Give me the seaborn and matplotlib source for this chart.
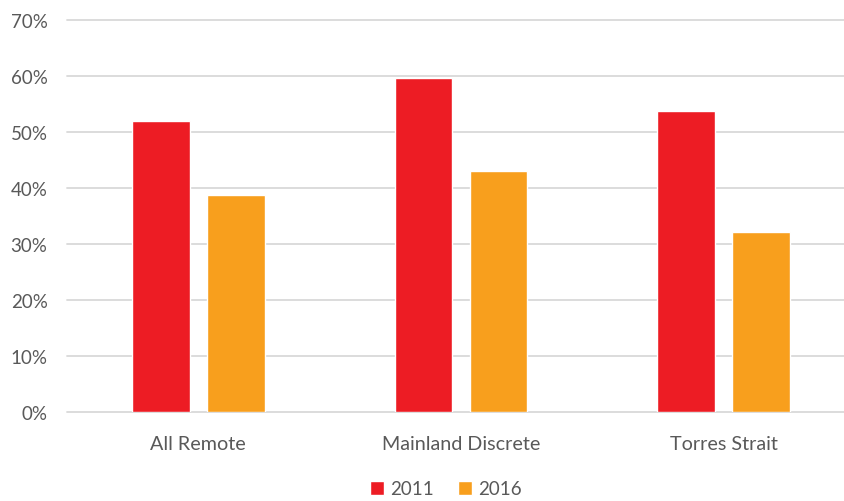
import matplotlib as mpl
mpl.use('Agg')

import matplotlib.pyplot as plt
from matplotlib.ticker import PercentFormatter
from matplotlib.patches import Patch
import pandas as pd
import seaborn as sns

# data
categories = ['All Remote', 'Mainland Discrete', 'Torres Strait']
years = ['2011', '2016']
values_2011 = [0.519, 0.596, 0.537]
values_2016 = [0.388, 0.430, 0.321]
y_ticks = [0.0, 0.1, 0.2, 0.3, 0.4, 0.5, 0.6, 0.7]

RED = '#ED1C24'
ORANGE = '#F89F1D'
GREY_TEXT = '#595959'
GRID = '#D9D9D9'


def main():
    sns.set_style('white')
    plt.rcParams['font.family'] = ['Lato', 'DejaVu Sans']

    df = pd.DataFrame({
        'category': categories * 2,
        'year': [years[0]] * 3 + [years[1]] * 3,
        'value': values_2011 + values_2016,
    })

    fig = plt.figure(figsize=(8.45, 5.02), dpi=100)
    # plot area runs past the right edge of the picture, as in the reference
    ax = fig.add_axes([67 / 845, (502 - 413.3) / 502, (855 - 67) / 845, (413.3 - 21) / 502])

    sns.barplot(data=df, x='category', y='value', hue='year', order=categories,
                hue_order=years, palette=[RED, ORANGE], width=0.571, gap=0.227,
                saturation=1, errorbar=None, legend=False, ax=ax)

    ax.set_xlim(-0.5, 2.5)
    ax.set_ylim(0, 0.7)
    ax.set_yticks(y_ticks)
    ax.yaxis.set_major_formatter(PercentFormatter(1.0, decimals=0))
    ax.grid(axis='y', color=GRID, linewidth=1.3)
    ax.set_axisbelow(True)
    for gl in ax.get_ygridlines():
        gl.set_clip_on(False)
    for s in ax.spines.values():
        s.set_visible(False)

    ax.set_xlabel('')
    ax.set_ylabel('')
    ax.tick_params(axis='y', length=0, pad=14, labelsize=13.5, labelcolor=GREY_TEXT)
    ax.tick_params(axis='x', length=0, pad=16, labelsize=14.2, labelcolor=GREY_TEXT)

    handles = [Patch(facecolor=RED, label=years[0]), Patch(facecolor=ORANGE, label=years[1])]
    fig.legend(handles=handles, loc='center', bbox_to_anchor=(446 / 845, 12 / 502), ncol=2,
               frameon=False, fontsize=13.5, labelcolor=GREY_TEXT, handlelength=0.75,
               handleheight=0.75, handletextpad=0.3, columnspacing=1.3)

    fig.savefig('out.png', dpi=100)


if __name__ == '__main__':
    main()
